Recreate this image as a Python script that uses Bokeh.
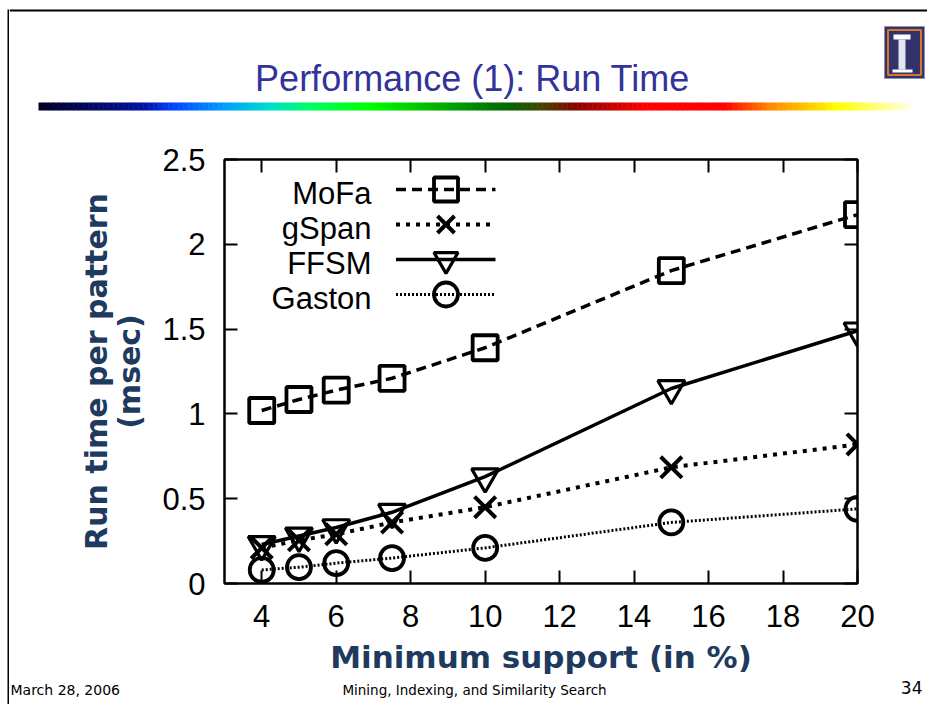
import numpy as np
from bokeh.plotting import figure
from bokeh.layouts import row, column
from bokeh.models import (Label, Legend, LegendItem, LinearAxis,
                          Range1d, FixedTicker, ColumnDataSource)
from bokeh.core.properties import value
from bokeh.embed import file_html
from bokeh.resources import INLINE

# ---------------- data ----------------
support = [4, 5, 6, 7.5, 10, 15, 20]
mofa = [1.02, 1.085, 1.14, 1.21, 1.39, 1.845, 2.175]
gspan = [0.21, 0.255, 0.29, 0.36, 0.45, 0.685, 0.82]
ffsm = [0.23, 0.28, 0.33, 0.42, 0.63, 1.15, 1.49]
gaston = [0.08, 0.096, 0.12, 0.15, 0.21, 0.36, 0.44]
series_names = ["MoFa", "gSpan", "FFSM", "Gaston"]
x_ticks = [4, 6, 8, 10, 12, 14, 16, 18, 20]
y_ticks = [0, 0.5, 1, 1.5, 2, 2.5]
y_tick_labels = {0: "0", 0.5: "0.5", 1: "1", 1.5: "1.5", 2: "2", 2.5: "2.5"}

title_text = "Performance (1): Run Time"
x_label = "Minimum support (in %)"
y_label = "Run time per pattern\n(msec)"
footer_left = "March 28, 2006"
footer_mid = "Mining, Indexing, and Similarity Search"
footer_right = "34"

TICK_FONT = "Liberation Sans"
LABEL_FONT = "DejaVu Sans"
NAVY = "#1f3a5f"
OX, OY = 9, 115          # offset of the chart figure in the page
W, H = 927, 704
CHART_BOTTOM = 677


def no_align(f):
    if "frame_align" in type(f).properties():
        f.frame_align = False
    return f


def deco_fig(w, h, xr, yr):
    f = figure(width=w, height=h, x_range=Range1d(*xr), y_range=Range1d(*yr),
               x_axis_type=None, y_axis_type=None, min_border=0,
               outline_line_color=None, output_backend="svg",
               toolbar_location=None, background_fill_color="white",
               border_fill_color="white")
    f.grid.visible = False
    return no_align(f)

# ---------------- left strip (slide border) ----------------
strip = deco_fig(OX, H, (0, OX), (H, 0))
strip.quad(left=[7], right=[9], top=[9], bottom=[H], fill_color="black", line_color=None)

# ---------------- header ----------------
head = deco_fig(W - OX, OY, (OX, W), (OY, 0))
head.quad(left=[OX], right=[W], top=[9], bottom=[11], fill_color="black", line_color=None)
head.text(x=[472], y=[78], text=[title_text], text_align="center",
          text_baseline="middle", text_font=value("Liberation Sans"),
          text_font_size="36px", text_color="#333399")

stops = [(0.0, "#000020"), (0.12, "#0010a0"), (0.155, "#0044ff"), (0.21, "#0099ff"),
         (0.265, "#00ddcc"), (0.31, "#00ff66"), (0.38, "#00ff00"), (0.447, "#00bb00"),
         (0.538, "#006600"), (0.577, "#444400"), (0.616, "#880000"), (0.694, "#ff0000"),
         (0.785, "#ff0000"), (0.837, "#ff8800"), (0.915, "#ffff00"), (1.0, "#ffffee")]
sf = np.array([s[0] for s in stops])
sc = np.array([[int(c[1:3], 16), int(c[3:5], 16), int(c[5:7], 16)] for _, c in stops])
nseg = 175
edges = np.linspace(38, 911, nseg + 1)
cols = []
for k in range(nseg):
    fr = (k + 0.5) / nseg
    rgb = [int(round(np.interp(fr, sf, sc[:, j]))) for j in range(3)]
    cols.append("#%02x%02x%02x" % tuple(rgb))
head.quad(left=edges[:-1], right=edges[1:] + 0.5, top=102, bottom=110,
          fill_color=cols, line_color=None)

# logo
head.quad(left=[884], right=[924], top=[26], bottom=[78], fill_color="#33336b",
          line_color="#9090b0", line_width=1)
head.quad(left=[887.5], right=[920.5], top=[29.5], bottom=[74.5], fill_color=None,
          line_color="#d8762a", line_width=2)
head.quad(left=[893, 898, 892], right=[910, 905, 912], top=[34, 39, 69],
          bottom=[39, 69, 72], fill_color=["white", "#e4e4f2", "white"], line_color=None)

# ---------------- chart ----------------
p = figure(width=W - OX, height=CHART_BOTTOM - OY, output_backend="svg",
           toolbar_location=None, x_range=Range1d(3, 20), y_range=Range1d(0, 2.5),
           min_border_left=224 - OX, min_border_right=W - 857, min_border_top=159 - OY,
           min_border_bottom=CHART_BOTTOM - 583, background_fill_color="white",
           border_fill_color="white")
no_align(p)
p.xgrid.visible = False
p.ygrid.visible = False
p.outline_line_color = "black"
p.outline_line_width = 2

p.xaxis.ticker = FixedTicker(ticks=x_ticks)
p.yaxis.ticker = FixedTicker(ticks=y_ticks)
p.yaxis.major_label_overrides = y_tick_labels
p.xaxis.axis_label = x_label
p.yaxis.axis_label = y_label

for ax in [p.xaxis[0], p.yaxis[0]]:
    ax.axis_line_width = 2
    ax.major_tick_in = 13
    ax.major_tick_out = 0
    ax.major_tick_line_width = 2
    ax.minor_tick_line_color = None
    ax.major_label_text_font = TICK_FONT
    ax.major_label_text_font_size = "31px"
    ax.major_label_text_color = "black"
    ax.axis_label_text_font = LABEL_FONT
    ax.axis_label_text_font_style = "bold"
    ax.axis_label_text_color = NAVY
    ax.axis_label_text_font_size = "31px"
p.yaxis[0].major_label_standoff = 19
p.xaxis[0].major_label_standoff = 21
p.yaxis[0].axis_label_standoff = 12
p.xaxis[0].axis_label_standoff = 9
p.yaxis[0].axis_label_text_font_size = "30px"
p.yaxis[0].axis_label_text_line_height = 0.95

top_ax = LinearAxis(ticker=FixedTicker(ticks=x_ticks),
                    major_label_overrides={t: "" for t in x_ticks})
right_ax = LinearAxis(ticker=FixedTicker(ticks=y_ticks),
                      major_label_overrides={t: "" for t in y_ticks})
for ax in [top_ax, right_ax]:
    ax.axis_line_width = 2
    ax.major_tick_in = 13
    ax.major_tick_out = 0
    ax.major_tick_line_width = 2
    ax.minor_tick_line_color = None
    ax.major_label_text_font_size = "1px"
p.add_layout(top_ax, "above")
p.add_layout(right_ax, "right")

styles = [
    dict(marker="square", size=25, dash="10 6", lw=3.5, mlw=3.8),
    dict(marker="x", size=30, dash="4 6", lw=4, mlw=4),
    dict(marker="inverted_triangle", size=27, dash="solid", lw=3.5, mlw=3.2),
    dict(marker="circle", size=24, dash="2 2", lw=3, mlw=3.8),
]
values = [mofa, gspan, ffsm, gaston]
for i, (name, vals, st) in enumerate(zip(series_names, values, styles)):
    src = ColumnDataSource(dict(x=support, y=vals))
    lr = p.line("x", "y", source=src, line_color="black", line_width=st["lw"],
                line_dash=st["dash"])
    sr = p.scatter("x", "y", source=src, marker=st["marker"], size=st["size"],
                   fill_color=None, line_color="black", line_width=st["mlw"])
    # one legend per row, so that the key glyphs can be large and rows close
    leg = Legend(items=[LegendItem(label=value(" "), renderers=[lr, sr])],
                 location="top_center", glyph_width=100, glyph_height=60,
                 label_width=191, label_height=0, label_standoff=0,
                 padding=4, margin=35 * i, border_line_color=None,
                 background_fill_alpha=0, label_text_font_size="1px")
    p.add_layout(leg)
    p.add_layout(Label(x=371 - OX, y=193 + 35 * i - OY, x_units="canvas",
                       y_units="canvas", text=name, text_align="right",
                       text_baseline="middle", text_font=TICK_FONT,
                       text_font_size="31px", text_color="black"))

# ---------------- footer ----------------
foot = deco_fig(W - OX, H - CHART_BOTTOM, (OX, W), (H, CHART_BOTTOM))
foot.text(x=[10], y=[689], text=[footer_left], text_align="left",
          text_baseline="middle", text_font=value("DejaVu Sans"),
          text_font_size="14px", text_color="black")
foot.text(x=[474], y=[689], text=[footer_mid], text_align="center",
          text_baseline="middle", text_font=value("DejaVu Sans"),
          text_font_size="13.5px", text_color="black")
foot.text(x=[922], y=[687], text=[footer_right], text_align="right",
          text_baseline="middle", text_font=value("DejaVu Sans"),
          text_font_size="17px", text_color="black")

layout = row(strip, column(column(head), column(p), column(foot), spacing=0), spacing=0)
open("out.html", "w").write(file_html(layout, INLINE))
